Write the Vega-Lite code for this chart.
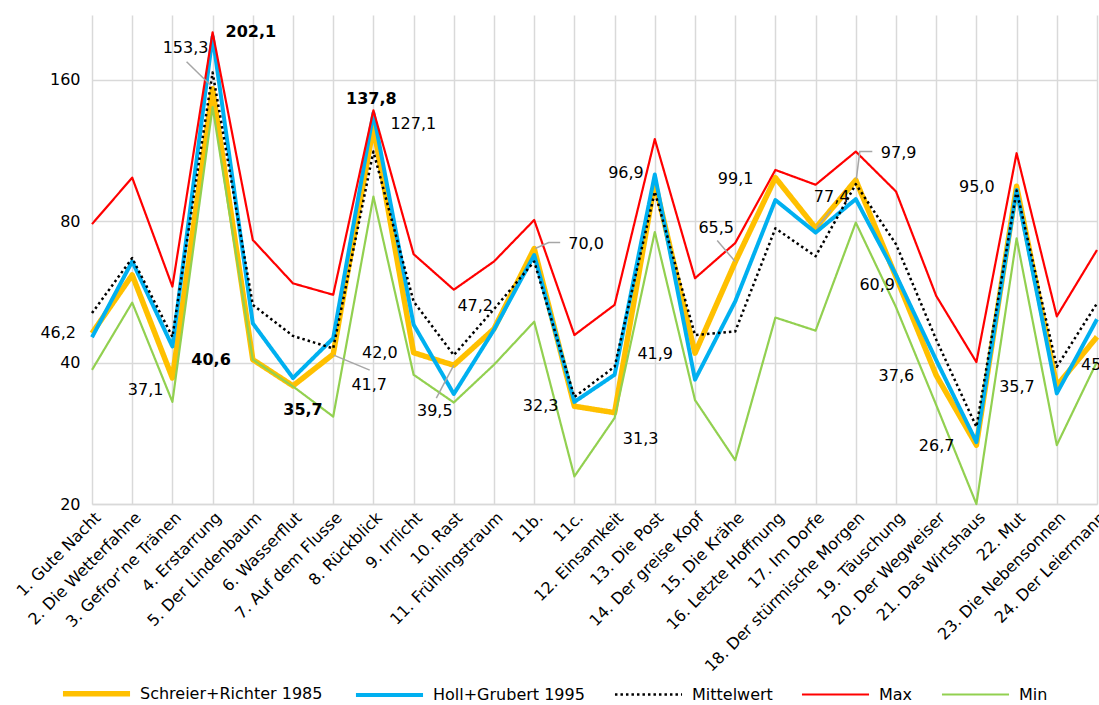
{
  "$schema": "https://vega.github.io/schema/vega-lite/v6.json",
  "width": 1005,
  "height": 489,
  "autosize": {"type": "none"},
  "padding": {"left": 92, "top": 15, "right": 2, "bottom": 201},
  "background": "white",
  "config": {
    "locale": {"number": {"decimal": ",", "thousands": ".", "grouping": [3], "currency": ["", " €"]}},
    "font": "DejaVu Sans",
    "view": {"stroke": null},
    "axis": {"labelFont": "DejaVu Sans", "labelFontSize": 16, "labelColor": "#000000", "gridColor": "#d9d9d9", "gridWidth": 1.5, "domainColor": "#d9d9d9", "domainWidth": 1.5, "ticks": false, "title": null, "labelLimit": 400},
    "legend": {"orient": "none", "legendX": -32, "legendY": 642, "direction": "horizontal", "columns": 5, "symbolType": "stroke", "symbolSize": 4500, "labelFont": "DejaVu Sans", "labelFontSize": 16, "labelColor": "#000000", "columnPadding": 24, "labelOffset": 7, "padding": 0, "labelLimit": 400},
    "text": {"font": "DejaVu Sans", "fontSize": 16, "color": "#000000"}
  },
  "data": {"values": [
    {"song": "1. Gute Nacht", "Schreier+Richter 1985": 46.2, "Holl+Grubert 1995": 45.3, "Mittelwert": 51.0, "Max": 78.9, "Min": 38.6},
    {"song": "2. Die Wetterfahne", "Schreier+Richter 1985": 61.5, "Holl+Grubert 1995": 65.7, "Mittelwert": 66.8, "Max": 99.1, "Min": 53.7},
    {"song": "3. Gefror’ne Tränen", "Schreier+Richter 1985": 37.1, "Holl+Grubert 1995": 43.3, "Mittelwert": 45.4, "Max": 58.1, "Min": 33.0},
    {"song": "4. Erstarrung", "Schreier+Richter 1985": 153.3, "Holl+Grubert 1995": 198.0, "Mittelwert": 166.0, "Max": 202.1, "Min": 140.0},
    {"song": "5. Der Lindenbaum", "Schreier+Richter 1985": 40.6, "Holl+Grubert 1995": 48.5, "Mittelwert": 53.1, "Max": 73.0, "Min": 40.6},
    {"song": "6. Wasserflut", "Schreier+Richter 1985": 35.7, "Holl+Grubert 1995": 37.1, "Mittelwert": 45.6, "Max": 59.0, "Min": 35.6},
    {"song": "7. Auf dem Flusse", "Schreier+Richter 1985": 41.7, "Holl+Grubert 1995": 45.1, "Mittelwert": 42.9, "Max": 55.8, "Min": 30.7},
    {"song": "8. Rückblick", "Schreier+Richter 1985": 127.1, "Holl+Grubert 1995": 136.0, "Mittelwert": 112.6, "Max": 137.8, "Min": 90.3},
    {"song": "9. Irrlicht", "Schreier+Richter 1985": 42.0, "Holl+Grubert 1995": 48.2, "Mittelwert": 54.0, "Max": 68.1, "Min": 37.7},
    {"song": "10. Rast", "Schreier+Richter 1985": 39.5, "Holl+Grubert 1995": 34.3, "Mittelwert": 41.5, "Max": 57.2, "Min": 32.9},
    {"song": "11. Frühlingstraum", "Schreier+Richter 1985": 47.2, "Holl+Grubert 1995": 47.0, "Mittelwert": 52.0, "Max": 65.7, "Min": 39.6},
    {"song": "11b.", "Schreier+Richter 1985": 70.0, "Holl+Grubert 1995": 67.8, "Mittelwert": 65.7, "Max": 80.5, "Min": 48.9},
    {"song": "11c.", "Schreier+Richter 1985": 32.3, "Holl+Grubert 1995": 33.0, "Mittelwert": 33.8, "Max": 45.8, "Min": 22.9},
    {"song": "12. Einsamkeit", "Schreier+Richter 1985": 31.3, "Holl+Grubert 1995": 37.7, "Mittelwert": 39.2, "Max": 53.1, "Min": 30.5},
    {"song": "13. Die Post", "Schreier+Richter 1985": 96.9, "Holl+Grubert 1995": 100.6, "Mittelwert": 92.5, "Max": 119.7, "Min": 75.9},
    {"song": "14. Der greise Kopf", "Schreier+Richter 1985": 41.9, "Holl+Grubert 1995": 36.8, "Mittelwert": 45.8, "Max": 60.5, "Min": 33.3},
    {"song": "15. Die Krähe", "Schreier+Richter 1985": 65.5, "Holl+Grubert 1995": 54.0, "Mittelwert": 46.6, "Max": 71.9, "Min": 24.8},
    {"song": "16. Letzte Hoffnung", "Schreier+Richter 1985": 99.1, "Holl+Grubert 1995": 88.8, "Mittelwert": 77.3, "Max": 102.9, "Min": 49.9},
    {"song": "17. Im Dorfe", "Schreier+Richter 1985": 77.4, "Holl+Grubert 1995": 75.7, "Mittelwert": 67.4, "Max": 95.7, "Min": 46.8},
    {"song": "18. Der stürmische Morgen", "Schreier+Richter 1985": 97.9, "Holl+Grubert 1995": 89.2, "Mittelwert": 96.0, "Max": 112.6, "Min": 79.5},
    {"song": "19. Täuschung", "Schreier+Richter 1985": 60.9, "Holl+Grubert 1995": 61.5, "Mittelwert": 71.5, "Max": 92.6, "Min": 52.5},
    {"song": "20. Der Wegweiser", "Schreier+Richter 1985": 37.6, "Holl+Grubert 1995": 40.5, "Mittelwert": 44.8, "Max": 55.5, "Min": 32.5},
    {"song": "21. Das Wirtshaus", "Schreier+Richter 1985": 26.7, "Holl+Grubert 1995": 27.1, "Mittelwert": 29.2, "Max": 40.1, "Min": 20.0},
    {"song": "22. Mut", "Schreier+Richter 1985": 95.0, "Holl+Grubert 1995": 93.3, "Mittelwert": 93.0, "Max": 111.7, "Min": 73.6},
    {"song": "23. Die Nebensonnen", "Schreier+Richter 1985": 35.7, "Holl+Grubert 1995": 34.4, "Mittelwert": 39.2, "Max": 50.2, "Min": 26.7},
    {"song": "24. Der Leiermann", "Schreier+Richter 1985": 45.4, "Holl+Grubert 1995": 49.5, "Mittelwert": 53.5, "Max": 69.5, "Min": 40.2}
  ]},
  "transform": [
    {"fold": ["Schreier+Richter 1985", "Holl+Grubert 1995", "Mittelwert", "Max", "Min"], "as": ["series", "value"]}
  ],
  "encoding": {
    "x": {"field": "song", "type": "nominal", "sort": null, "scale": {"type": "point", "padding": 0}, "axis": {"labelAngle": -45, "grid": true, "domain": true, "labelPadding": 5}},
    "y": {"field": "value", "type": "quantitative", "scale": {"type": "log", "domain": [20, 220], "nice": false}, "axis": {"values": [20, 40, 80, 160], "domain": false, "labelPadding": 12, "format": "d", "grid": true}}
  },
  "layer": [
    {
      "mark": {"type": "line", "strokeJoin": "round", "strokeCap": "butt"},
      "encoding": {
        "color": {"field": "series", "type": "nominal", "scale": {"domain": ["Schreier+Richter 1985", "Holl+Grubert 1995", "Mittelwert", "Max", "Min"], "range": ["#FFC000", "#00B0F0", "#000000", "#FF0000", "#92D050"]},
          "legend": {"title": null, "orient": "none", "legendX": -32, "legendY": 642, "direction": "horizontal", "columns": 5, "labelLimit": 400}},
        "strokeDash": {"field": "series", "type": "nominal", "scale": {"domain": ["Schreier+Richter 1985", "Holl+Grubert 1995", "Mittelwert", "Max", "Min"], "range": [[1, 0], [1, 0], [2.5, 3], [1, 0], [1, 0]]},
          "legend": {"title": null, "orient": "none", "legendX": -32, "legendY": 642, "direction": "horizontal", "columns": 5, "labelLimit": 400}},
        "strokeWidth": {"field": "series", "type": "nominal", "scale": {"type": "ordinal", "domain": ["Schreier+Richter 1985", "Holl+Grubert 1995", "Mittelwert", "Max", "Min"], "range": [5.5, 4, 2.5, 2.2, 2.2]},
          "legend": {"title": null, "orient": "none", "legendX": -32, "legendY": 642, "direction": "horizontal", "columns": 5, "labelLimit": 400}}
      }
    },
    {
      "transform": [{"filter": {"and": [{"field": "series", "equal": "Schreier+Richter 1985"}, {"field": "song", "equal": "4. Erstarrung"}]}}],
      "mark": {"type": "point", "shape": "M-0.04,-0.07L-0.52,-0.54", "size": 10000, "filled": false, "color": "#a6a6a6", "strokeWidth": 1.5, "opacity": 1}
    },
    {
      "transform": [{"filter": {"and": [{"field": "series", "equal": "Schreier+Richter 1985"}, {"field": "song", "equal": "7. Auf dem Flusse"}]}}],
      "mark": {"type": "point", "shape": "M0.01,0.02L0.73,0.32", "size": 10000, "filled": false, "color": "#a6a6a6", "strokeWidth": 1.5, "opacity": 1}
    },
    {
      "transform": [{"filter": {"and": [{"field": "series", "equal": "Schreier+Richter 1985"}, {"field": "song", "equal": "10. Rast"}]}}],
      "mark": {"type": "point", "shape": "M0,0L-0.35,0.66", "size": 10000, "filled": false, "color": "#a6a6a6", "strokeWidth": 1.5, "opacity": 1}
    },
    {
      "transform": [{"filter": {"and": [{"field": "series", "equal": "Schreier+Richter 1985"}, {"field": "song", "equal": "11b."}]}}],
      "mark": {"type": "point", "shape": "M0.02,0L0.29,-0.12L0.52,-0.12", "size": 10000, "filled": false, "color": "#a6a6a6", "strokeWidth": 1.5, "opacity": 1}
    },
    {
      "transform": [{"filter": {"and": [{"field": "series", "equal": "Schreier+Richter 1985"}, {"field": "song", "equal": "15. Die Krähe"}]}}],
      "mark": {"type": "point", "shape": "M0,-0.01L-0.36,-0.43", "size": 10000, "filled": false, "color": "#a6a6a6", "strokeWidth": 1.5, "opacity": 1}
    },
    {
      "transform": [{"filter": {"and": [{"field": "series", "equal": "Schreier+Richter 1985"}, {"field": "song", "equal": "17. Im Dorfe"}]}}],
      "mark": {"type": "point", "shape": "M0.02,0L0.31,-0.36", "size": 10000, "filled": false, "color": "#a6a6a6", "strokeWidth": 1.5, "opacity": 1}
    },
    {
      "transform": [{"filter": {"and": [{"field": "series", "equal": "Schreier+Richter 1985"}, {"field": "song", "equal": "18. Der stürmische Morgen"}]}}],
      "mark": {"type": "point", "shape": "M0.01,-0.02L0.08,-0.57L0.33,-0.57", "size": 10000, "filled": false, "color": "#a6a6a6", "strokeWidth": 1.5, "opacity": 1}
    },
    {
      "transform": [{"filter": {"and": [{"field": "series", "equal": "Schreier+Richter 1985"}, {"field": "song", "oneOf": ["1. Gute Nacht", "9. Irrlicht", "11c."]}]}}],
      "mark": {"type": "text", "align": "right", "baseline": "middle", "dx": -16, "dy": 0},
      "encoding": {"text": {"field": "value", "type": "quantitative", "format": ".1f"}}
    },
    {
      "transform": [{"filter": {"and": [{"field": "series", "equal": "Schreier+Richter 1985"}, {"field": "song", "oneOf": ["14. Der greise Kopf", "16. Letzte Hoffnung", "20. Der Wegweiser", "21. Das Wirtshaus", "22. Mut", "23. Die Nebensonnen"]}]}}],
      "mark": {"type": "text", "align": "right", "baseline": "middle", "dx": -22, "dy": 1},
      "encoding": {"text": {"field": "value", "type": "quantitative", "format": ".1f"}}
    },
    {
      "transform": [{"filter": {"and": [{"field": "series", "equal": "Schreier+Richter 1985"}, {"field": "song", "equal": "5. Der Lindenbaum"}]}}],
      "mark": {"type": "text", "align": "right", "baseline": "middle", "dx": -22, "dy": 0, "fontWeight": "bold"},
      "encoding": {"text": {"field": "value", "type": "quantitative", "format": ".1f"}}
    },
    {
      "transform": [{"filter": {"and": [{"field": "series", "equal": "Schreier+Richter 1985"}, {"field": "song", "equal": "6. Wasserflut"}]}}],
      "mark": {"type": "text", "align": "center", "baseline": "middle", "dx": 10, "dy": 24, "fontWeight": "bold"},
      "encoding": {"text": {"field": "value", "type": "quantitative", "format": ".1f"}}
    },
    {
      "transform": [{"filter": {"and": [{"field": "series", "equal": "Max"}, {"field": "song", "equal": "4. Erstarrung"}]}}],
      "mark": {"type": "text", "align": "left", "baseline": "middle", "dx": 13, "dy": 0, "fontWeight": "bold"},
      "encoding": {"text": {"field": "value", "type": "quantitative", "format": ".1f"}}
    },
    {
      "transform": [{"filter": {"and": [{"field": "series", "equal": "Max"}, {"field": "song", "equal": "8. Rückblick"}]}}],
      "mark": {"type": "text", "align": "center", "baseline": "middle", "dx": -2, "dy": -11, "fontWeight": "bold"},
      "encoding": {"text": {"field": "value", "type": "quantitative", "format": ".1f"}}
    },
    {
      "transform": [{"filter": {"and": [{"field": "series", "equal": "Schreier+Richter 1985"}, {"field": "song", "equal": "3. Gefror’ne Tränen"}]}}],
      "mark": {"type": "text", "align": "right", "baseline": "middle", "dx": -9, "dy": 12},
      "encoding": {"text": {"field": "value", "type": "quantitative", "format": ".1f"}}
    },
    {
      "transform": [{"filter": {"and": [{"field": "series", "equal": "Schreier+Richter 1985"}, {"field": "song", "equal": "4. Erstarrung"}]}}],
      "mark": {"type": "text", "align": "center", "baseline": "middle", "dx": -27, "dy": -41},
      "encoding": {"text": {"field": "value", "type": "quantitative", "format": ".1f"}}
    },
    {
      "transform": [{"filter": {"and": [{"field": "series", "equal": "Schreier+Richter 1985"}, {"field": "song", "equal": "7. Auf dem Flusse"}]}}],
      "mark": {"type": "text", "align": "center", "baseline": "middle", "dx": 36, "dy": 31},
      "encoding": {"text": {"field": "value", "type": "quantitative", "format": ".1f"}}
    },
    {
      "transform": [{"filter": {"and": [{"field": "series", "equal": "Schreier+Richter 1985"}, {"field": "song", "equal": "8. Rückblick"}]}}],
      "mark": {"type": "text", "align": "left", "baseline": "middle", "dx": 17, "dy": -3},
      "encoding": {"text": {"field": "value", "type": "quantitative", "format": ".1f"}}
    },
    {
      "transform": [{"filter": {"and": [{"field": "series", "equal": "Schreier+Richter 1985"}, {"field": "song", "equal": "11. Frühlingstraum"}]}}],
      "mark": {"type": "text", "align": "right", "baseline": "middle", "dx": -1, "dy": -23},
      "encoding": {"text": {"field": "value", "type": "quantitative", "format": ".1f"}}
    },
    {
      "transform": [{"filter": {"and": [{"field": "series", "equal": "Schreier+Richter 1985"}, {"field": "song", "equal": "10. Rast"}]}}],
      "mark": {"type": "text", "align": "center", "baseline": "middle", "dx": -19, "dy": 46},
      "encoding": {"text": {"field": "value", "type": "quantitative", "format": ".1f"}}
    },
    {
      "transform": [{"filter": {"and": [{"field": "series", "equal": "Schreier+Richter 1985"}, {"field": "song", "equal": "11b."}]}}],
      "mark": {"type": "text", "align": "left", "baseline": "middle", "dx": 34, "dy": -5},
      "encoding": {"text": {"field": "value", "type": "quantitative", "format": ".1f"}}
    },
    {
      "transform": [{"filter": {"and": [{"field": "series", "equal": "Schreier+Richter 1985"}, {"field": "song", "equal": "12. Einsamkeit"}]}}],
      "mark": {"type": "text", "align": "center", "baseline": "middle", "dx": 26, "dy": 26},
      "encoding": {"text": {"field": "value", "type": "quantitative", "format": ".1f"}}
    },
    {
      "transform": [{"filter": {"and": [{"field": "series", "equal": "Schreier+Richter 1985"}, {"field": "song", "equal": "13. Die Post"}]}}],
      "mark": {"type": "text", "align": "right", "baseline": "middle", "dx": -11, "dy": -9},
      "encoding": {"text": {"field": "value", "type": "quantitative", "format": ".1f"}}
    },
    {
      "transform": [{"filter": {"and": [{"field": "series", "equal": "Schreier+Richter 1985"}, {"field": "song", "equal": "15. Die Krähe"}]}}],
      "mark": {"type": "text", "align": "center", "baseline": "middle", "dx": -19, "dy": -34},
      "encoding": {"text": {"field": "value", "type": "quantitative", "format": ".1f"}}
    },
    {
      "transform": [{"filter": {"and": [{"field": "series", "equal": "Schreier+Richter 1985"}, {"field": "song", "equal": "17. Im Dorfe"}]}}],
      "mark": {"type": "text", "align": "center", "baseline": "middle", "dx": 16, "dy": -31},
      "encoding": {"text": {"field": "value", "type": "quantitative", "format": ".1f"}}
    },
    {
      "transform": [{"filter": {"and": [{"field": "series", "equal": "Schreier+Richter 1985"}, {"field": "song", "equal": "18. Der stürmische Morgen"}]}}],
      "mark": {"type": "text", "align": "left", "baseline": "middle", "dx": 25, "dy": -27},
      "encoding": {"text": {"field": "value", "type": "quantitative", "format": ".1f"}}
    },
    {
      "transform": [{"filter": {"and": [{"field": "series", "equal": "Schreier+Richter 1985"}, {"field": "song", "equal": "19. Täuschung"}]}}],
      "mark": {"type": "text", "align": "right", "baseline": "middle", "dx": -1, "dy": 8},
      "encoding": {"text": {"field": "value", "type": "quantitative", "format": ".1f"}}
    },
    {
      "transform": [{"filter": {"and": [{"field": "series", "equal": "Schreier+Richter 1985"}, {"field": "song", "equal": "24. Der Leiermann"}]}}],
      "mark": {"type": "text", "align": "left", "baseline": "middle", "dx": -16, "dy": 28},
      "encoding": {"text": {"field": "value", "type": "quantitative", "format": ".1f"}}
    }
  ]
}
